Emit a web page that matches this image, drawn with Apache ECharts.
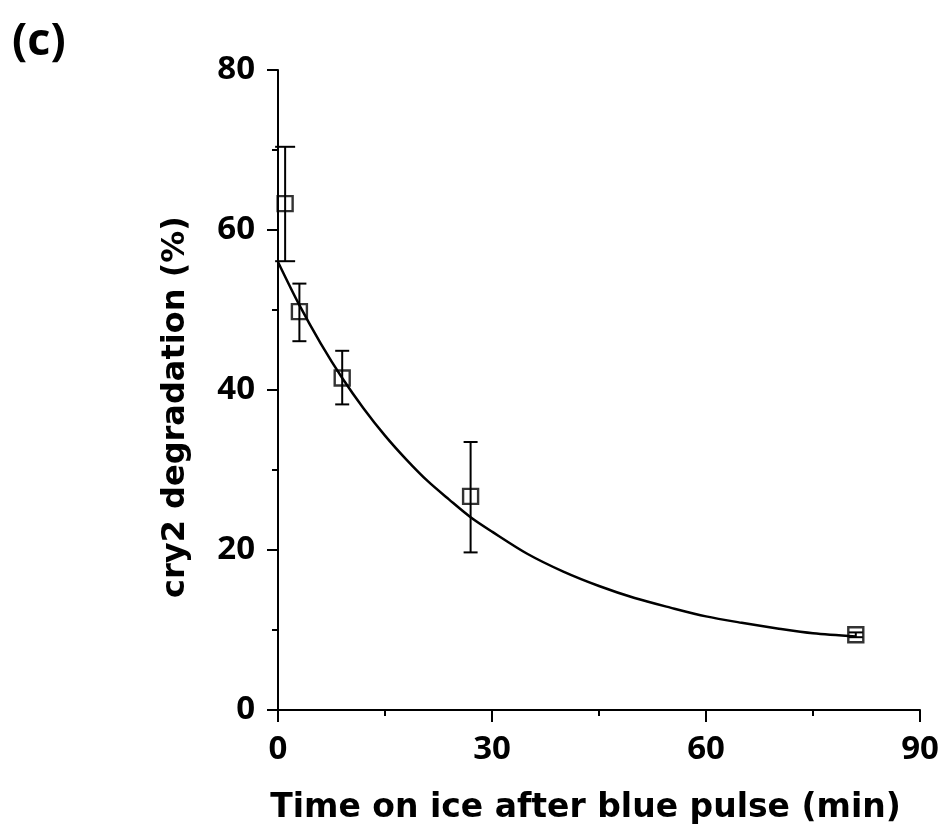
<!DOCTYPE html>
<html>
<head>
<meta charset="utf-8">
<script src="https://cdn.jsdelivr.net/npm/echarts@6/dist/echarts.min.js"></script>
<style>
  html, body { margin: 0; padding: 0; background: #ffffff; }
  #chart { width: 946px; height: 830px; }
</style>
</head>
<body>
<div id="chart"></div>
<script>
// Measured points (time on ice, min) and cry2 degradation (%)
const timeMin = [1, 3, 9, 27, 81];
const degradation = [63.3, 49.8, 41.5, 26.7, 9.4];
const errLow = [56.1, 46.1, 38.2, 19.7, 9.1];
const errHigh = [70.4, 53.3, 44.9, 33.5, 9.7];

// Fitted decay curve
const fitX = [0, 3, 6, 9, 12, 15, 18, 21, 24, 27, 30, 35, 40, 45, 50, 55, 60, 65, 70, 75, 81];
const fitY = [56.0, 50.6, 45.8, 41.5, 37.7, 34.3, 31.3, 28.6, 26.3, 24.1, 22.3, 19.5, 17.3, 15.5, 14.0, 12.8, 11.7, 10.9, 10.2, 9.6, 9.2];

const xTicks = [0, 30, 60, 90];
const yTicks = [0, 20, 40, 60, 80];

const chart = echarts.init(document.getElementById('chart'), null, { renderer: 'canvas' });

const tickFont = { fontFamily: '"Open Sans", sans-serif', fontWeight: 'bold', fontSize: 33, color: '#000' };
const titleFont = { fontFamily: '"DejaVu Sans", sans-serif', fontWeight: 'bold', color: '#000' };

const option = {
  backgroundColor: '#ffffff',
  animation: false,
  graphic: [{
    type: 'text', left: 12, top: 20,
    style: { text: '(c)', fontFamily: '"Open Sans", sans-serif', fontWeight: 'bold', fontSize: 45, fill: '#000' }
  }],
  grid: { left: 278, right: 26, top: 70, bottom: 120, containLabel: false },
  xAxis: {
    type: 'value', min: xTicks[0], max: xTicks[xTicks.length - 1], interval: 30,
    name: 'Time on ice after blue pulse (min)', nameLocation: 'middle', nameGap: 82,
    nameTextStyle: Object.assign({ fontSize: 33, padding: [0, 27, 0, 0] }, titleFont),
    axisLine: { show: true, onZero: false, lineStyle: { color: '#000', width: 2 } },
    axisTick: { show: true, inside: false, length: 12, lineStyle: { color: '#000', width: 2 } },
    minorTick: { show: true, splitNumber: 2, length: 6, lineStyle: { color: '#000', width: 2 } },
    axisLabel: Object.assign({ margin: 23 }, tickFont),
    splitLine: { show: false }
  },
  yAxis: {
    type: 'value', min: yTicks[0], max: yTicks[yTicks.length - 1], interval: 20,
    name: 'cry2 degradation (%)', nameLocation: 'middle', nameGap: 86, nameRotate: 90,
    nameTextStyle: Object.assign({ fontSize: 32, padding: [0, 34, 0, 0] }, titleFont),
    axisLine: { show: true, onZero: false, lineStyle: { color: '#000', width: 2 } },
    axisTick: { show: true, inside: false, length: 11, lineStyle: { color: '#000', width: 2 } },
    minorTick: { show: true, splitNumber: 2, length: 6, lineStyle: { color: '#000', width: 2 } },
    axisLabel: Object.assign({ margin: 23 }, tickFont),
    splitLine: { show: false }
  },
  series: [
    {
      type: 'line', name: 'fit',
      data: fitX.map((x, i) => [x, fitY[i]]),
      showSymbol: false, smooth: 0.3,
      lineStyle: { color: '#000', width: 2.5 },
      z: 2
    },
    {
      type: 'custom', name: 'error',
      data: timeMin.map((x, i) => [x, errLow[i], errHigh[i], i]),
      renderItem: function (params, api) {
        const x = api.value(0);
        const lo = api.coord([x, api.value(1)]);
        const hi = api.coord([x, api.value(2)]);
        const capW = api.value(3) === 0 ? 10 : 7;
        const style = { stroke: '#000', lineWidth: 2, fill: null };
        return {
          type: 'group',
          children: [
            { type: 'line', shape: { x1: lo[0], y1: lo[1], x2: hi[0], y2: hi[1] }, style: style },
            { type: 'line', shape: { x1: hi[0] - capW, y1: hi[1], x2: hi[0] + capW, y2: hi[1] }, style: style },
            { type: 'line', shape: { x1: lo[0] - capW, y1: lo[1], x2: lo[0] + capW, y2: lo[1] }, style: style }
          ]
        };
      },
      encode: { x: 0, y: [1, 2] },
      z: 3
    },
    {
      type: 'scatter', name: 'data',
      data: timeMin.map((x, i) => [x, degradation[i]]),
      symbol: 'rect', symbolSize: 15,
      itemStyle: { color: 'rgba(255,255,255,0)', borderColor: '#000', borderWidth: 2.4 },
      z: 4
    }
  ]
};
chart.setOption(option);
</script>
</body>
</html>
